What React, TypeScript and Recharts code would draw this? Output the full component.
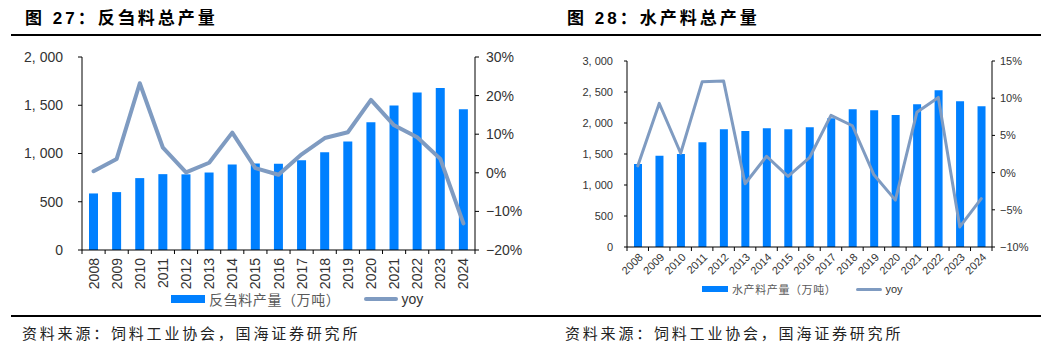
import React from "react";
import { Bar, ComposedChart, Legend, Line, XAxis, YAxis } from "recharts";

const years = ["2008", "2009", "2010", "2011", "2012", "2013", "2014", "2015", "2016", "2017", "2018", "2019", "2020", "2021", "2022", "2023", "2024"];

// 反刍料总产量（万吨）及同比（%）
const ruminantOutput = [586, 600, 745, 786, 784, 803, 886, 897, 893, 931, 1014, 1124, 1324, 1497, 1631, 1679, 1459];
const ruminantYoy = [0.4, 3.6, 23.2, 6.5, 0.1, 2.6, 10.4, 1.2, -0.5, 4.8, 9.0, 10.5, 18.9, 12.3, 9.2, 3.6, -13.1];

// 水产料总产量（万吨）及同比（%）
const aquaOutput = [1339, 1473, 1500, 1688, 1898, 1871, 1914, 1898, 1930, 2075, 2220, 2204, 2129, 2301, 2527, 2349, 2269];
const aquaYoy = [0.9, 9.3, 2.6, 12.2, 12.3, -1.5, 2.2, -0.5, 2.0, 7.7, 6.3, -0.3, -3.7, 8.1, 10.1, -7.3, -3.5];

const ruminantLeftTicks = [0, 500, 1000, 1500, 2000];
const ruminantRightTicks = [-20, -10, 0, 10, 20, 30];
const aquaLeftTicks = [0, 500, 1000, 1500, 2000, 2500, 3000];
const aquaRightTicks = [-10, -5, 0, 5, 10, 15];

const BLUE = "#0080FF";
const LINE = "#7F9BC1";
const AXIS = "#000000";
const TEXT = "#333333";
const CJK = "'Noto Sans CJK SC', sans-serif";
const LATIN = "'Liberation Sans', Arial, 'Noto Sans CJK SC', sans-serif";

const fmtThousands = (v: number) => v.toLocaleString("en-US").replace(",", ", ");
const fmtPct = (v: number) => (v < 0 ? "\u2212" + Math.abs(v) : String(v)) + "%";

type PanelProps = {
  left: number;
  width: number;
  height: number;
  top: number;
  plotLeft: number;
  plotRight: number;
  xAxisHeight: number;
  legendHeight: number;
  output: number[];
  yoy: number[];
  leftTicks: number[];
  rightTicks: number[];
  fontSize: number;
  leftTickSize: number;
  leftTickMargin: number;
  rightTickSize: number;
  rightTickMargin: number;
  barSize: number;
  lineWidth: number;
  rotate: number;
  seriesName: string;
  legendPad: number;
  legendFont: number;
  legendRectW: number;
  legendRectH: number;
  legendGap: number;
};

function Panel(p: PanelProps) {
  const data = years.map((y, i) => ({ year: y, output: p.output[i], yoy: p.yoy[i] }));
  const bw = (p.plotRight - p.plotLeft) / years.length;

  const renderTick = (props: any) => {
    const { x, y, payload, index } = props;
    const axisY = y;
    const last = index === years.length - 1;
    let label;
    if (p.rotate === -90) {
      const ty = axisY + 8;
      label = (
        <text x={x} y={ty} transform={`rotate(-90 ${x} ${ty})`} textAnchor="end" dominantBaseline="central" fontSize={p.fontSize} fill={TEXT} fontFamily={LATIN}>
          {payload.value}
        </text>
      );
    } else {
      const tx = x + 3;
      const ty = axisY + 8;
      label = (
        <text x={tx} y={ty} transform={`rotate(-45 ${tx} ${ty})`} textAnchor="end" dominantBaseline="central" fontSize={p.fontSize} fill={TEXT} fontFamily={LATIN}>
          {payload.value}
        </text>
      );
    }
    return (
      <g>
        <line x1={x - bw / 2} x2={x - bw / 2} y1={axisY} y2={axisY + 4} stroke={AXIS} />
        {last && <line x1={x + bw / 2} x2={x + bw / 2} y1={axisY} y2={axisY + 4} stroke={AXIS} />}
        {label}
      </g>
    );
  };

  const renderLegend = () => (
    <div style={{ display: "flex", alignItems: "center", height: p.legendHeight, paddingLeft: p.legendPad, fontSize: p.legendFont, boxSizing: "border-box" }}>
      <span style={{ display: "inline-block", width: p.legendRectW, height: p.legendRectH, background: BLUE }} />
      <span style={{ marginLeft: 4, color: "#595959", fontFamily: CJK, letterSpacing: 0.6 }}>{p.seriesName}</span>
      <span style={{ display: "inline-block", marginLeft: p.legendGap, width: p.legendRectW, height: p.lineWidth, background: LINE, borderRadius: 2 }} />
      <span style={{ marginLeft: 3, color: TEXT, fontFamily: LATIN }}>yoy</span>
    </div>
  );

  return (
    <div style={{ position: "absolute", left: p.left, top: 0 }}>
      <ComposedChart width={p.width} height={p.height} data={data} margin={{ top: p.top, right: 0, bottom: 0, left: 0 }} barCategoryGap={0}>
        <XAxis dataKey="year" xAxisId={0} height={p.xAxisHeight} stroke={AXIS} tickLine={false} tickSize={0} tickMargin={0} interval={0} tick={renderTick} />
        <YAxis
          yAxisId="left"
          width={p.plotLeft}
          domain={[p.leftTicks[0], p.leftTicks[p.leftTicks.length - 1]]}
          ticks={p.leftTicks}
          tickFormatter={fmtThousands}
          stroke={AXIS}
          tick={{ fill: TEXT, fontSize: p.fontSize, fontFamily: LATIN }}
          tickSize={p.leftTickSize}
          tickMargin={p.leftTickMargin}
          interval={0}
        />
        <YAxis
          yAxisId="right"
          orientation="right"
          width={p.width - p.plotRight}
          domain={[p.rightTicks[0], p.rightTicks[p.rightTicks.length - 1]]}
          ticks={p.rightTicks}
          tickFormatter={fmtPct}
          stroke={AXIS}
          tick={{ fill: TEXT, fontSize: p.fontSize, fontFamily: LATIN, textAnchor: "start" }}
          tickSize={p.rightTickSize}
          tickMargin={p.rightTickMargin}
          interval={0}
        />
        <Legend verticalAlign="bottom" content={renderLegend} />
        <Bar yAxisId="left" dataKey="output" name={p.seriesName} fill={BLUE} barSize={p.barSize} isAnimationActive={false} />
        <Line yAxisId="right" dataKey="yoy" name="yoy" type="linear" stroke={LINE} strokeWidth={p.lineWidth} dot={false} strokeLinejoin="round" strokeLinecap="round" isAnimationActive={false} />
      </ComposedChart>
    </div>
  );
}

const titleStyle: React.CSSProperties = {
  position: "absolute",
  top: 8,
  fontFamily: LATIN,
  fontWeight: 700,
  fontSize: 17,
  letterSpacing: 3,
  color: "#000",
  lineHeight: "22px",
  whiteSpace: "nowrap",
};

const sourceStyle: React.CSSProperties = {
  position: "absolute",
  top: 322,
  fontFamily: CJK,
  fontSize: 15,
  letterSpacing: 2.8,
  color: "#222",
  lineHeight: "22px",
  whiteSpace: "nowrap",
};

export default function App() {
  return (
    <div style={{ position: "absolute", left: 0, top: 0, width: 1046, height: 354, background: "#fff", overflow: "hidden" }}>
      <div style={{ ...titleStyle, left: 25 }}>图 27：反刍料总产量</div>
      <div style={{ ...titleStyle, left: 567 }}>图 28：水产料总产量</div>
      <div style={{ position: "absolute", left: 11, top: 34, width: 1030, height: 2, background: "#000" }} />
      <Panel
        left={0}
        width={535}
        height={311}
        top={57}
        plotLeft={82}
        plotRight={475}
        xAxisHeight={37}
        legendHeight={24}
        output={ruminantOutput}
        yoy={ruminantYoy}
        leftTicks={ruminantLeftTicks}
        rightTicks={ruminantRightTicks}
        fontSize={14}
        leftTickSize={4}
        leftTickMargin={15}
        rightTickSize={4}
        rightTickMargin={7}
        barSize={9}
        lineWidth={4}
        rotate={-90}
        seriesName="反刍料产量（万吨）"
        legendPad={171}
        legendFont={14}
        legendRectW={34}
        legendRectH={8}
        legendGap={24}
      />
      <Panel
        left={520}
        width={526}
        height={299}
        top={61}
        plotLeft={107}
        plotRight={472}
        xAxisHeight={32}
        legendHeight={20}
        output={aquaOutput}
        yoy={aquaYoy}
        leftTicks={aquaLeftTicks}
        rightTicks={aquaRightTicks}
        fontSize={11}
        leftTickSize={3}
        leftTickMargin={11}
        rightTickSize={3}
        rightTickMargin={5}
        barSize={8}
        lineWidth={3}
        rotate={-45}
        seriesName="水产料产量（万吨）"
        legendPad={182}
        legendFont={11}
        legendRectW={26}
        legendRectH={6}
        legendGap={20}
      />
      <div style={{ position: "absolute", left: 11, top: 315, width: 1030, height: 2, background: "#000" }} />
      <div style={{ ...sourceStyle, left: 22 }}>资料来源：饲料工业协会，国海证券研究所</div>
      <div style={{ ...sourceStyle, left: 565 }}>资料来源：饲料工业协会，国海证券研究所</div>
    </div>
  );
}
